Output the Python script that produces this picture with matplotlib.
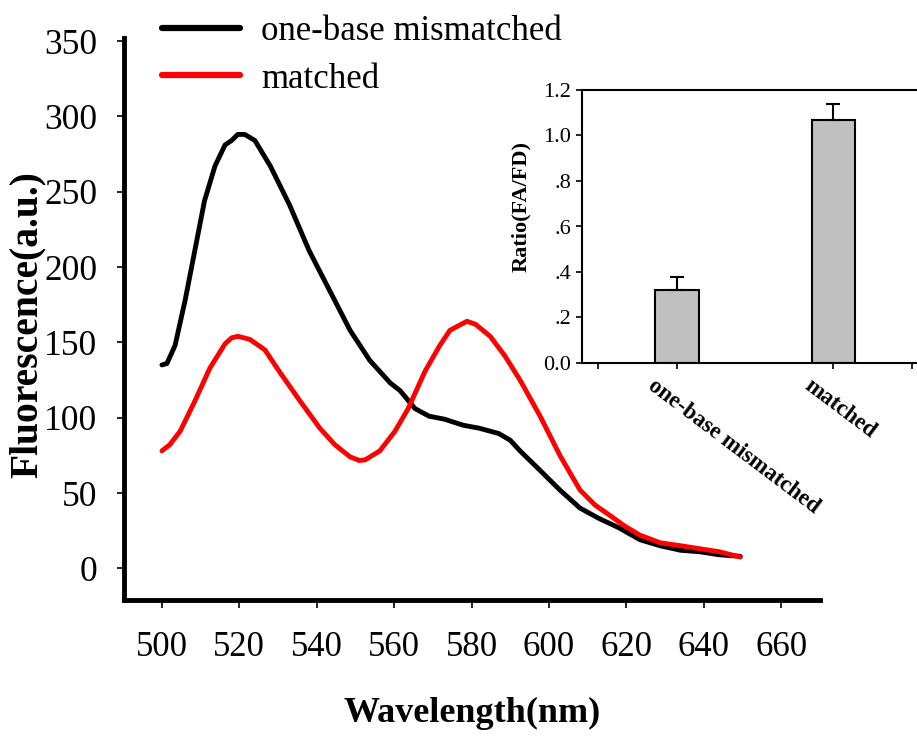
import matplotlib.pyplot as plt
import matplotlib.transforms as mtransforms
from matplotlib.ticker import FixedLocator

plt.rcParams['font.family'] = ['Liberation Serif', 'DejaVu Serif']

# emission spectra, wavelength (nm) vs fluorescence (a.u.)
mis_wl = [500, 501.3, 503.4, 506, 508.5, 511, 513.7, 516.3, 518, 519.6, 521.4, 524,
          528, 533, 538, 543.4, 548.6, 553.7, 559, 561.5, 565.4, 569, 573, 577.8,
          582, 587, 590, 592.5, 597.7, 602.8, 608, 613, 618, 623.5, 628.7, 634,
          639, 644, 649.4]
mis_fl = [135, 136, 148, 178, 211, 244, 267, 281, 284, 288, 288, 284,
          267, 241, 211, 184, 158, 138, 123, 118, 106, 101, 99, 95,
          93, 89.5, 85, 78, 65, 52, 40, 33, 27, 19, 15, 12,
          11, 9, 8]

match_wl = [500, 502, 504.7, 508.5, 512.4, 516.3, 518, 519.6, 522.7, 526.6, 530.5,
            535.7, 540.8, 544.7, 548.6, 551, 552.5, 556.3, 560.2, 563.6, 568, 571.8,
            574.4, 578.8, 581, 584.8, 588.6, 592.5, 597.7, 602.8, 608, 611.9, 615.8,
            619.6, 623.5, 628.7, 634, 639, 644, 649.4]
match_fl = [78, 82, 91, 111, 133, 149, 153, 154, 152, 145, 130,
            111, 93, 82, 74, 71.6, 72, 78, 91, 106, 131, 148,
            158, 164, 162, 154, 141, 125, 101, 75, 52, 42, 35,
            28, 22, 17, 15, 13, 11, 7.5]

# FA/FD ratio for the inset
groups = ['one-base mismatched', 'matched']
ratio = [0.32, 1.07]
ratio_err = [0.06, 0.07]

fig = plt.figure(figsize=(9.17, 7.36), dpi=100)
ax = fig.add_axes([124 / 917, 1 - 600 / 736, (820 - 124) / 917, (600 - 38) / 736])

ax.plot(mis_wl, mis_fl, color='black', lw=3.5, label='one-base mismatched',
        solid_capstyle='round', solid_joinstyle='round')
ax.plot(match_wl, match_fl, color='#ff0000', lw=3.5, label='matched',
        solid_capstyle='round', solid_joinstyle='round')

ax.set_xlim(490.2, 670)
ax.set_ylim(-21, 352)
ax.set_xticks(range(500, 661, 20))
ax.set_yticks(range(0, 351, 50))
for side in ('top', 'right'):
    ax.spines[side].set_visible(False)
for side in ('left', 'bottom'):
    ax.spines[side].set_linewidth(3.5)
ax.tick_params(axis='x', direction='out', length=6, width=1.2, labelsize=25, pad=16)
ax.tick_params(axis='y', direction='out', length=5, width=1.2, labelsize=25.5, pad=14)
ax.set_xlabel('Wavelength(nm)', fontsize=26, fontweight='bold', labelpad=24)
ax.set_ylabel('Fluorescence(a.u.)', fontsize=28.5, fontweight='bold')
ax.yaxis.set_label_coords(-0.112, 0.49)

leg = ax.legend(loc='upper left', bbox_to_anchor=(162 / 917, 1 - 15 / 736),
                bbox_transform=fig.transFigure, frameon=False, fontsize=25,
                handlelength=2.25, handletextpad=0.6, labelspacing=0.42,
                borderpad=0, borderaxespad=0)
for h in leg.get_lines():
    h.set_linewidth(4.5)

# inset bar chart
ins = fig.add_axes([582 / 917, 1 - 363 / 736, (932 - 582) / 917, (363 - 90) / 736])
xpos = [0, 1]
ins.bar(xpos, ratio, width=0.28, color='#c0c0c0', edgecolor='black', linewidth=1.5,
        zorder=2)
ins.errorbar(xpos, ratio, yerr=[[0, 0], ratio_err], fmt='none', ecolor='black',
             elinewidth=1.5, capsize=5, capthick=1.5, zorder=3)
ins.set_xlim(-0.603, 1.628)
ins.set_ylim(0, 1.2)
ins.set_yticks([0, 0.2, 0.4, 0.6, 0.8, 1.0, 1.2])
ins.set_yticklabels(['0.0', '.2', '.4', '.6', '.8', '1.0', '1.2'])
ins.set_xticks(xpos)
ins.set_xticklabels(groups, rotation=-37, ha='left', va='top',
                    rotation_mode='anchor', fontsize=16.5, fontweight='bold')
ins.xaxis.set_minor_locator(FixedLocator([-0.5, 1.5]))
ins.spines['right'].set_visible(False)
for side in ('left', 'bottom', 'top'):
    ins.spines[side].set_linewidth(1.5)
ins.tick_params(axis='both', which='both', direction='out', length=4, width=1.2)
ins.tick_params(axis='y', labelsize=16, pad=4)
ins.tick_params(axis='x', pad=5)
ins.set_ylabel('Ratio(FA/FD)', fontsize=16, fontweight='bold')
ins.yaxis.set_label_coords(-0.146, 0.573)

# shift the rotated category labels so they start left of their ticks
shift = mtransforms.ScaledTranslation(-20 / 100, 0, fig.dpi_scale_trans)
for lbl in ins.get_xticklabels():
    lbl.set_transform(lbl.get_transform() + shift)

fig.savefig('out.png', dpi=100)
